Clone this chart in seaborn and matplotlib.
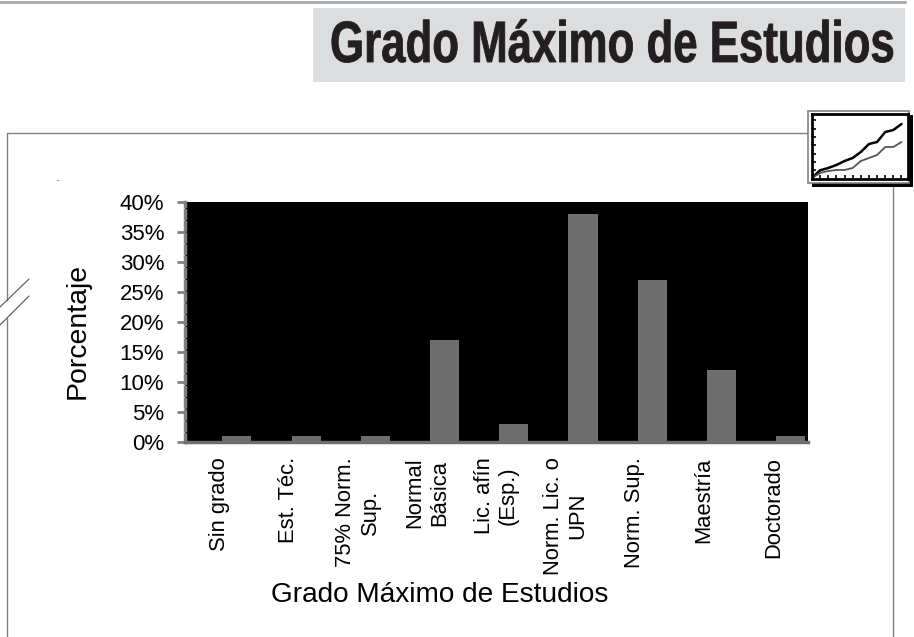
import matplotlib
matplotlib.use("Agg")
import matplotlib.pyplot as plt
import matplotlib.patheffects as pe
from matplotlib.lines import Line2D
from matplotlib.patches import Rectangle
from matplotlib.ticker import PercentFormatter
from matplotlib.transforms import Affine2D
import pandas as pd
import seaborn as sns

categorias = ["Sin grado", "Est. Téc.", "75% Norm.\nSup.", "Normal\nBásica", "Lic. afín\n(Esp.)",
              "Norm. Lic. o\nUPN", "Norm. Sup.", "Maestría", "Doctorado"]
vacia = [0, 0, 0, 0, 0, 0, 0, 0, 0]
porcentaje = [1, 1, 1, 17, 3, 38, 27, 12, 1]

# little chart of the corner icon
icono_x = [0, 1, 2, 3, 4, 5, 6, 7, 8, 9, 10, 11]
icono_negra = [1, 8.7, 11, 14, 18, 21, 27, 35, 37, 47, 49, 55]
icono_gris = [1, 6, 8, 9, 9, 11, 18, 21, 24, 32, 32, 37]

W, H = 914, 637

sns.set_theme(style="white")
plt.rcParams["font.family"] = ["Liberation Sans", "DejaVu Sans"]

fig = plt.figure(figsize=(W / 100, H / 100), dpi=100)


def caja(x0, y0, x1, y1):
    # pixels of the picture to figure fractions
    return [x0 / W, 1 - y1 / H, (x1 - x0) / W, (y1 - y0) / H]


def linea(xs, ys, color="#808080", lw=1.0):
    fig.add_artist(Line2D([x / W for x in xs], [1 - y / H for y in ys], color=color, lw=lw))


def rect(x0, y0, x1, y1, **kw):
    fig.add_artist(Rectangle((x0 / W, 1 - y1 / H), (x1 - x0) / W, (y1 - y0) / H, transform=fig.transFigure, **kw))


class Estrecha(pe.AbstractPathEffect):
    # squeezes the title glyphs horizontally around x0 (pixels) and fattens them a bit
    def __init__(self, sx, x0, grueso):
        super().__init__()
        self.sx = sx
        self.x0 = x0
        self.grueso = grueso

    def draw_path(self, renderer, gc, tpath, affine, rgbFace=None):
        t = affine + Affine2D().translate(-self.x0, 0).scale(self.sx, 1).translate(self.x0, 0)
        gc.set_linewidth(self.grueso)
        gc.set_foreground(rgbFace)
        renderer.draw_path(gc, tpath, t, rgbFace)


# page furniture
linea([0, 905], [1.5, 1.5], color="#a9abae", lw=2.2)
rect(313, 8, 905, 82, facecolor="#dcddde", edgecolor="none")
t = fig.text(150 / W, 1 - 47 / H, "Grado Máximo de Estudios", ha="left", va="center",
             fontsize=42, fontweight="bold", color="#231f20")
t.set_path_effects([Estrecha(0.751, 873, 0.6)])

linea([7, 7], [133, 300])
linea([7, 7], [318, 637])
linea([7, 810], [133, 133])
linea([893, 893], [185, 637])
linea([0, 29], [307, 279], color="#555555", lw=0.8)
linea([0, 29], [325, 296], color="#555555", lw=0.8)
linea([57, 58], [180, 180], color="#444444", lw=0.6)

# main chart
df = pd.DataFrame({
    "cat": categorias * 2,
    "valor": vacia + porcentaje,
    "serie": ["a"] * len(categorias) + ["b"] * len(categorias),
})

ax = fig.add_axes(caja(185, 202, 808, 442))
ax.set_facecolor("black")
sns.barplot(data=df, x="cat", y="valor", hue="serie", order=categorias, palette=["#6e6e6e", "#6e6e6e"],
            width=1.0, gap=0.16, legend=False, linewidth=0, ax=ax, zorder=3)
ax.set_xlim(-0.5, 8.5)
ax.set_ylim(0, 40)
ax.set_yticks([0, 5, 10, 15, 20, 25, 30, 35, 40])
ax.yaxis.set_major_formatter(PercentFormatter(decimals=0))
ax.tick_params(axis="y", length=6, width=2, color="#808080", labelsize=16, labelcolor="black", pad=9, left=True)
ax.tick_params(axis="x", length=0, labelsize=15.8, labelcolor="black", pad=11)
for lab in ax.get_xticklabels():
    lab.set_rotation(90)
    lab.set_va("top")
    lab.set_ha("center")
    lab.set_multialignment("center")
for lado in ["top", "right"]:
    ax.spines[lado].set_visible(False)
ax.spines["left"].set_color("#808080")
ax.spines["left"].set_linewidth(2.5)
ax.spines["left"].set_linestyle((0, (2.2, 1.2)))
ax.spines["bottom"].set_color("#6e6e6e")
ax.spines["bottom"].set_linewidth(2.5)
ax.set_xlabel("")
ax.set_ylabel("")
fig.text(440 / W, 1 - 595 / H, "Grado Máximo de Estudios", ha="center", va="center", fontsize=20.2, color="black")
fig.text(78 / W, 1 - 331 / H, "Porcentaje", ha="center", va="center", rotation=90, fontsize=20.4, color="black")

# corner icon
rect(812, 115, 913, 187, facecolor="black", edgecolor="none", zorder=3)
rect(808, 111, 909, 183, facecolor="white", edgecolor="#808080", lw=1.2, zorder=3)
ic = fig.add_axes(caja(812, 114, 908, 179))
ic.set_zorder(4)
sns.lineplot(x=icono_x, y=icono_negra, color="black", lw=1.8, ax=ic)
sns.lineplot(x=icono_x, y=icono_gris, color="#555555", lw=1.3, ax=ic)
ic.set_xlim(0, 11.8)
ic.set_ylim(0, 65)
ic.set_xticks(icono_x[1:])
ic.set_yticks([9, 17, 25, 34, 42, 50, 59])
ic.tick_params(direction="in", length=3, width=1.2, color="black", labelleft=False, labelbottom=False, left=True, bottom=True)
for s in ic.spines.values():
    s.set_color("black")
    s.set_linewidth(2)

fig.savefig("out.png", dpi=100, facecolor="white")
